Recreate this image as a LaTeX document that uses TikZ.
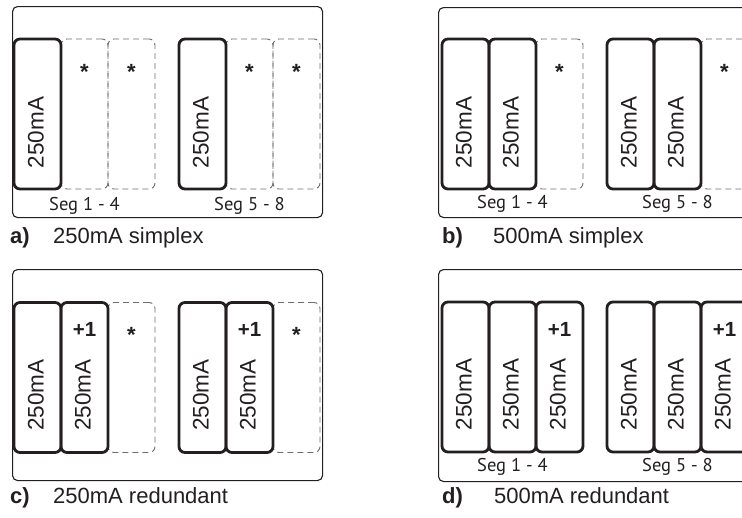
\documentclass[tikz,border=0pt]{standalone}
\usepackage{fontspec}
\setmainfont{Liberation Sans}
\newfontfamily\segfont{PT Sans}
\definecolor{ink}{HTML}{231F20}
\definecolor{dashgray}{HTML}{6E6E6E}
\tikzset{
  panel/.style={draw=ink, line width=1.1pt, rounded corners=5pt, inner sep=0pt, anchor=north west},
  modsolid/.style={draw=ink, line width=2.8pt, rounded corners=6pt, minimum width=47pt, minimum height=150pt, inner sep=0pt},
  moddash/.style={draw=dashgray, line width=0.9pt, dash pattern=on 6pt off 4pt, rounded corners=6pt, minimum width=47pt, minimum height=150pt, inner sep=0pt},
  modtext/.style={rotate=90, anchor=base, font=\fontsize{22.5}{22.5}\selectfont, text=ink, inner sep=0pt},
  startext/.style={anchor=base, font=\bfseries\fontsize{22}{22}\selectfont, text=ink, inner sep=0pt},
  plustext/.style={anchor=base, font=\bfseries\fontsize{20.5}{20.5}\selectfont, text=ink, inner sep=0pt},
  segtext/.style={anchor=base, font=\segfont\fontsize{18.5}{18.5}\selectfont, text=ink, inner sep=0pt},
  captag/.style={anchor=base west, font=\bfseries\fontsize{22}{22}\selectfont, text=ink, inner sep=0pt},
  captext/.style={anchor=base west, font=\fontsize{22}{22}\selectfont, text=ink, inner sep=0pt},
}
\begin{document}
\begin{tikzpicture}[x=1pt,y=1pt]
\useasboundingbox (0,0) rectangle (742,-517);
\clip (0,0) rectangle (742,-517);

% outer panels
\node[panel, minimum width=310pt, minimum height=211pt] (pa) at (12,-6) {};
\node[panel, minimum width=311pt, minimum height=210pt] (pb) at (438,-7) {};
\node[panel, minimum width=310pt, minimum height=211pt] (pc) at (12,-269) {};
\node[panel, minimum width=311pt, minimum height=212pt] (pd) at (438,-269) {};

% ---- panel a
\foreach \x [count=\i] in {84.5,131.5,249.5,296.5} {
  \node[moddash] (ad\i) at (\x,-114) {};
  \node[startext] (as\i) at ([yshift=35pt]ad\i.center) {*};
}
\foreach \x [count=\i] in {37.5,202.5} {
  \node[modsolid] (am\i) at (\x,-114) {};
  \node[modtext] (at\i) at ([xshift=6pt,yshift=-18.5pt]am\i.center) {250mA};
}
\node[segtext] (aseg1) at (84.5,-210) {Seg 1 - 4};
\node[segtext] (aseg2) at (249.5,-210) {Seg 5 - 8};
\node[captag] (acap) at (10,-243) {a)};
\node[captext] (acapt) at (53,-243) {250mA simplex};

% ---- panel b
\foreach \x [count=\i] in {559.5,724.5} {
  \node[moddash] (bd\i) at (\x,-114) {};
  \node[startext] (bs\i) at ([yshift=35pt]bd\i.center) {*};
}
\foreach \x [count=\i] in {465.5,512.5,630.5,677.5} {
  \node[modsolid] (bm\i) at (\x,-114) {};
  \node[modtext] (bt\i) at ([xshift=6pt,yshift=-18.5pt]bm\i.center) {250mA};
}
\node[segtext] (bseg1) at (512.5,-208.5) {Seg 1 - 4};
\node[segtext] (bseg2) at (677.5,-208.5) {Seg 5 - 8};
\node[captag] (bcap) at (442,-243) {b)};
\node[captext] (bcapt) at (493,-243) {500mA simplex};

% ---- panel c
\foreach \x [count=\i] in {131.5,296.5} {
  \node[moddash] (cd\i) at (\x,-377.5) {};
  \node[startext] (cs\i) at ([yshift=35pt]cd\i.center) {*};
}
\foreach \x [count=\i] in {37.5,84.5,202.5,249.5} {
  \node[modsolid] (cm\i) at (\x,-377.5) {};
  \node[modtext] (ct\i) at ([xshift=6pt,yshift=-17.5pt]cm\i.center) {250mA};
}
\node[plustext] (cp1) at ([yshift=41pt]cm2.center) {+1};
\node[plustext] (cp2) at ([yshift=41pt]cm4.center) {+1};
\node[captag] (ccap) at (10,-503) {c)};
\node[captext] (ccapt) at (53,-503) {250mA redundant};

% ---- panel d
\foreach \x [count=\i] in {465.5,512.5,559.5,630.5,677.5,724.5} {
  \node[modsolid] (dm\i) at (\x,-377) {};
  \node[modtext] (dt\i) at ([xshift=6pt,yshift=-17.5pt]dm\i.center) {250mA};
}
\node[plustext] (dp1) at ([yshift=41pt]dm3.center) {+1};
\node[plustext] (dp2) at ([yshift=41pt]dm6.center) {+1};
\node[segtext] (dseg1) at (512.5,-471) {Seg 1 - 4};
\node[segtext] (dseg2) at (677.5,-471) {Seg 5 - 8};
\node[captag] (dcap) at (442,-503) {d)};
\node[captext] (dcapt) at (494,-503) {500mA redundant};
\end{tikzpicture}
\end{document}
